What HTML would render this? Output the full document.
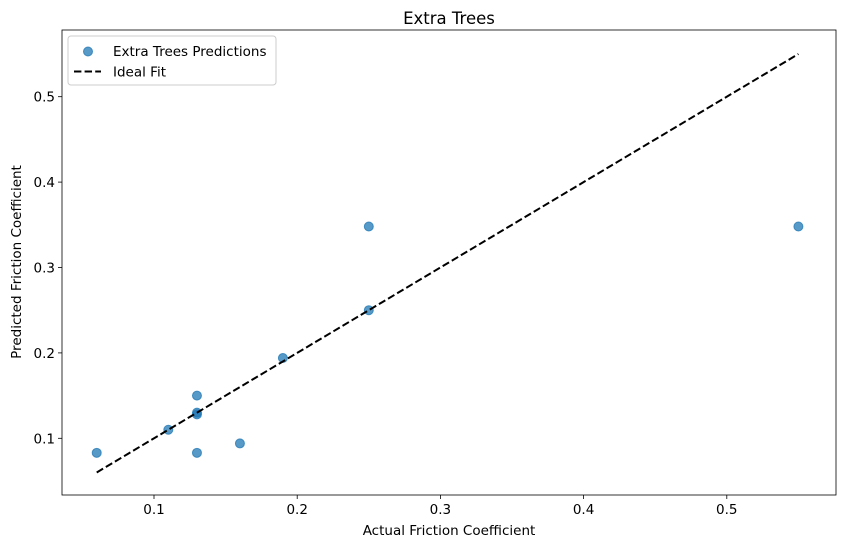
<!DOCTYPE html>
<html><head><meta charset="utf-8"><style>
body{margin:0;background:#fff;font-family:"Liberation Sans","DejaVu Sans",sans-serif;}
svg text{font-family:"DejaVu Sans","Liberation Sans",sans-serif;fill:#000;}
</style></head><body>
<svg id="chart" width="846" height="547">
<text x="449" y="24" font-size="16.5" text-anchor="middle">Extra Trees</text>
<g id="grid"></g>
<rect x="62" y="30" width="774" height="465" fill="none" stroke="#000" stroke-width="0.8"/>
<text x="449" y="535" font-size="13.5" text-anchor="middle">Actual Friction Coefficient</text>
<text transform="translate(21,262) rotate(-90)" font-size="13.5" text-anchor="middle">Predicted Friction Coefficient</text>
<g id="marks"></g>
<g>
<rect x="68" y="36" width="208" height="49" rx="3" fill="#fff" fill-opacity="0.8" stroke="#ccc"/>
<circle cx="88" cy="51.5" r="4.5" fill="#1f77b4" fill-opacity="0.75" stroke="#1f77b4" stroke-opacity="0.75"/>
<text x="113" y="56" font-size="13.5">Extra Trees Predictions</text>
<line x1="74" y1="71.5" x2="101" y2="71.5" stroke="#000" stroke-width="2" stroke-dasharray="7.4,3.2"/>
<text x="113" y="76.5" font-size="13.5">Ideal Fit</text>
</g>
</svg>
<script>
const actual=[0.06,0.11,0.13,0.13,0.13,0.13,0.16,0.19,0.25,0.25,0.55];
const predicted=[0.083,0.11,0.15,0.13,0.128,0.083,0.094,0.194,0.348,0.25,0.348];
const xTicks=[0.1,0.2,0.3,0.4,0.5];
const yTicks=[0.1,0.2,0.3,0.4,0.5];
const idealRange=[0.06,0.55];
const NS="http://www.w3.org/2000/svg";
function sx(v){return 154+(v-0.1)*1432;}
function sy(v){return 438.3-(v-0.1)*854;}
const g=document.getElementById('grid');
const m=document.getElementById('marks');
function mk(tag,attrs,parent){const e=document.createElementNS(NS,tag);for(const k in attrs)e.setAttribute(k,attrs[k]);parent.appendChild(e);return e;}
xTicks.forEach(t=>{
 const l=mk('line',{x1:sx(t),x2:sx(t),y1:495,y2:499,stroke:'#000','stroke-width':0.8},g);
 
 
 const tx=mk('text',{x:sx(t),y:514,'font-size':13.5,'text-anchor':'middle'},g);tx.textContent=t.toFixed(1);
 
 
});
yTicks.forEach(t=>{
 const l=mk('line',{x1:58,x2:62,y1:sy(t),y2:sy(t),stroke:'#000','stroke-width':0.8},g);
 
 
 const tx=mk('text',{x:55,y:sy(t)+5,'font-size':13.5,'text-anchor':'end'},g);tx.textContent=t.toFixed(1);
 
 
});
actual.forEach((a,i)=>{
 const c=mk('circle',{cx:sx(a),cy:sy(predicted[i]),r:4.5,fill:'#1f77b4','fill-opacity':0.75,stroke:'#1f77b4','stroke-opacity':0.75},m);
 
 
});
const il=mk('line',{x1:sx(idealRange[0]),y1:sy(idealRange[0]),x2:sx(idealRange[1]),y2:sy(idealRange[1]),stroke:'#000','stroke-width':2,'stroke-dasharray':'7.4,3.2'},m);


</script>
</body></html>
